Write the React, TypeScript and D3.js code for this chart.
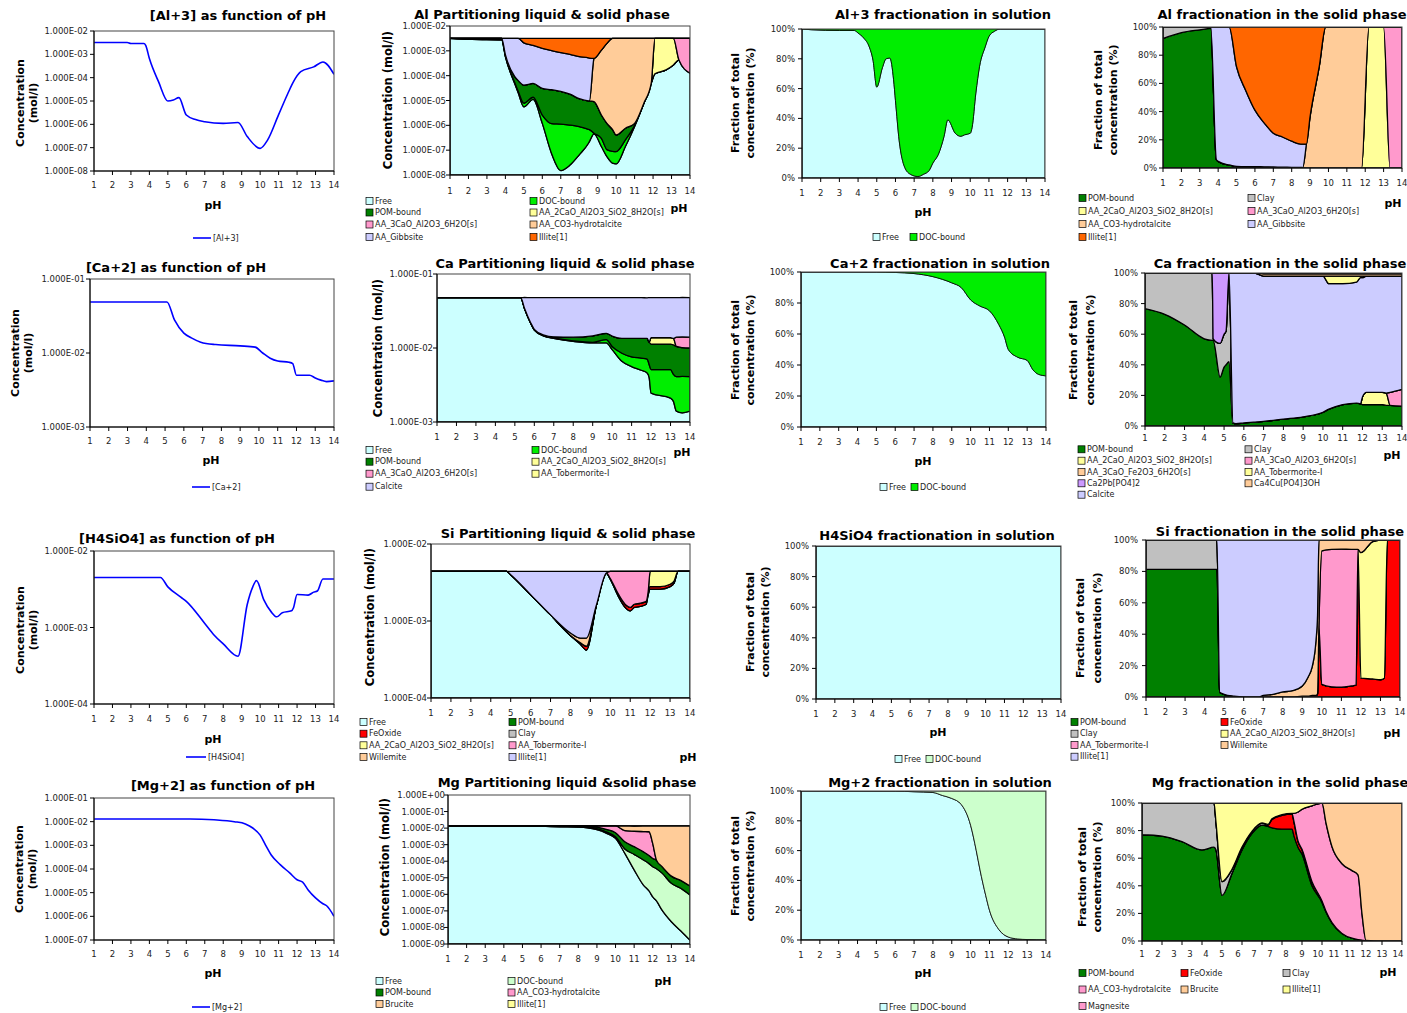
import React from "react";
import * as d3 from "d3";

const W = 1407;
const H = 1013;
const FONT = "'DejaVu Sans', Verdana, sans-serif";

// palette
const C_FREE = "#ccffff";
const C_DOC = "#00ee00";
const C_DOC_LIGHT = "#ccffcc";
const C_POM = "#008000";
const C_CLAY = "#c0c0c0";
const C_YELLOW = "#ffff99";
const C_PINK = "#ff99cc";
const C_PEACH = "#ffcc99";
const C_LAVENDER = "#ccccff";
const C_ORANGE = "#ff6600";
const C_RED = "#ff0000";
const C_PURPLE = "#cc99ff";
const C_LINE = "#0000ff";

const phTicks = [1, 2, 3, 4, 5, 6, 7, 8, 9, 10, 11, 12, 13, 14];
const mgSolidTickLabels = ["1", "2", "3", "3", "4", "5", "6", "7", "7", "8", "9", "10", "11", "11", "12", "13", "14"];

// ---------- Al ----------
const alLinePh = [1, 2.8, 3, 3.7, 3.8, 4, 4.5, 5, 5.3, 5.6, 6, 6.5, 7, 8, 8.8, 9.3, 10, 10.4, 11, 11.5, 11.8, 12.2, 12.9, 13.4, 14];
const alLine = [3.2e-3, 3.2e-3, 2.9e-3, 2.9e-3, 2.4e-3, 6.6e-4, 6.6e-5, 1e-5, 1.1e-5, 1.4e-5, 2.5e-6, 1.6e-6, 1.3e-6, 1.1e-6, 1.2e-6, 3e-7, 9.3e-8, 2.1e-7, 2.6e-6, 2.1e-5, 6.6e-5, 1.8e-4, 2.9e-4, 4.7e-4, 1.4e-4];

const alPartPh = [1, 2.2, 3.8, 4, 4.5, 4.7, 5, 5.5, 6, 6.5, 7, 7.5, 8, 8.5, 8.55, 8.8, 9.2, 9.5, 9.8, 10, 10.5, 11, 11.5, 11.9, 12.1, 12.7, 13.1, 13.4, 14];
const alPartFree = [3.2e-3, 2.9e-3, 2.8e-3, 5.9e-4, 4.9e-5, 2e-5, 5.6e-6, 1.1e-5, 1.2e-6, 7.4e-8, 1.5e-8, 2.5e-8, 6.5e-8, 1.9e-7, 2.2e-7, 4.5e-7, 1.4e-7, 5.5e-8, 3e-8, 2.8e-8, 1.4e-7, 9e-7, 7.8e-6, 5e-5, 1.2e-4, 1.7e-4, 2.7e-4, 4.3e-4, 1.25e-4];
const alPartDoc = [0, 0, 0, 1e-5, 5e-6, 3e-6, 2.2e-6, 2.5e-6, 1.4e-6, 1.1e-6, 1.1e-6, 1e-6, 8.3e-7, 5e-7, 4.5e-7, 3e-8, 1.6e-7, 5e-8, 6e-8, 6e-8, 1.2e-7, 1e-7, 0, 0, 0, 0, 0, 0, 0];
const alPartPom = [0, 3e-4, 4e-4, 1e-4, 4e-5, 4e-5, 3.4e-5, 3.5e-5, 2.8e-5, 2.6e-5, 2.2e-5, 1.7e-5, 1.1e-5, 9e-6, 9e-6, 8.5e-6, 2.3e-6, 1.1e-6, 6e-7, 3.2e-7, 5e-7, 2e-7, 0, 0, 0, 0, 0, 0, 0];
const alPart2CaO = [0, 0, 0, 0, 0, 0, 0, 0, 0, 0, 0, 0, 0, 0, 0, 0, 0, 0, 0, 0, 0, 0, 0, 0, 3.08e-3, 3e-3, 2.9e-3, 0, 0];
const alPart3CaO = [0, 0, 0, 0, 0, 0, 0, 0, 0, 0, 0, 0, 0, 0, 0, 0, 0, 0, 0, 0, 0, 0, 0, 0, 0, 0, 0, 2.77e-3, 3.07e-3];
const alPartHydro = [0, 0, 0, 0, 0, 0, 0, 0, 0, 0, 0, 0, 0, 0, 0, 4.9e-4, 1.07e-3, 2e-3, 3.2e-3, 3.2e-3, 3.2e-3, 3.2e-3, 3.19e-3, 3.15e-3, 0, 0, 0, 0, 0];
const alPartGibbsite = [0, 0, 0, 2.5e-3, 3.1e-3, 3.1e-3, 2.06e-3, 1.6e-3, 1.23e-3, 1e-3, 8.3e-4, 7e-4, 5.7e-4, 5.1e-4, 5e-4, 0, 0, 0, 0, 0, 0, 0, 0, 0, 0, 0, 0, 0, 0];
const alPartIllite = [0, 0, 0, 0, 0, 0, 1.1e-3, 1.55e-3, 1.9e-3, 2.15e-3, 2.35e-3, 2.45e-3, 2.6e-3, 2.65e-3, 2.65e-3, 2.65e-3, 2.1e-3, 1.2e-3, 0, 0, 0, 0, 0, 0, 0, 0, 0, 0, 0];

const alSolPh = [1, 1.5, 3, 3.8, 4, 4.3, 4.6, 4.8, 5, 5.3, 5.5, 5.7, 5.9, 6, 6.2, 6.5, 6.8, 7.2, 7.5, 7.8, 8, 8.3, 8.6, 8.8, 9.2, 9.5, 9.7, 10, 10.1, 10.3, 10.5, 10.8, 11, 11.3, 11.6, 14];
const alSolFree = [100, 99.5, 99, 99, 97.3, 94, 88, 79, 61, 74, 80, 80.5, 66, 52, 25, 7, 2.5, 1, 2.5, 5, 10, 16, 28, 39, 30, 28, 29, 30, 34, 57, 75, 88, 95, 98.5, 100, 100];
const alSolDoc = [0, 0.5, 1, 1, 2.7, 6, 12, 21, 39, 26, 20, 19.5, 34, 48, 75, 93, 97.5, 99, 97.5, 95, 90, 84, 72, 61, 70, 72, 71, 70, 66, 43, 25, 12, 5, 1.5, 0, 0];

const alSolidPh = [1, 2, 3, 3.6, 3.9, 4, 4.5, 4.6, 5, 5.5, 6, 6.5, 7, 7.5, 8, 8.5, 8.6, 8.8, 9, 9.5, 9.85, 11.8, 12.2, 13, 13.35, 14];
const alSolidPom = [91.8, 96, 98, 99, 6, 4.7, 2.4, 2.2, 1.2, 1, 1, 0.8, 0.7, 0.6, 0.5, 0.4, 0.3, 0, 0, 0, 0, 0, 0, 0, 0, 0];
const alSolidClay = [8.2, 4, 2, 1, 0, 0, 0, 0, 0, 0, 0, 0, 0, 0, 0, 0, 0, 0, 0, 0, 0, 0, 0, 0, 0, 0];
const alSolid2CaO = [0, 0, 0, 0, 0, 0, 0, 0, 0, 0, 0, 0, 0, 0, 0, 0, 0, 0, 0, 0, 0, 0, 100, 100, 0, 0];
const alSolid3CaO = [0, 0, 0, 0, 0, 0, 0, 0, 0, 0, 0, 0, 0, 0, 0, 0, 0, 0, 0, 0, 0, 0, 0, 0, 100, 100];
const alSolidHydro = [0, 0, 0, 0, 0, 0, 0, 0, 0, 0, 0, 0, 0, 0, 0, 0, 0, 17, 36.5, 72, 100, 100, 0, 0, 0, 0];
const alSolidGibbsite = [0, 0, 0, 0, 94, 95.3, 97.6, 97.8, 70.6, 54, 40, 31.2, 24, 21.4, 18.5, 16.6, 16.7, 0, 0, 0, 0, 0, 0, 0, 0, 0];
const alSolidIllite = [0, 0, 0, 0, 0, 0, 0, 0, 28.2, 45, 59, 68, 75.3, 78, 81, 83, 83, 83, 63.5, 28, 0, 0, 0, 0, 0, 0];

// ---------- Ca ----------
const caLinePh = [1, 5.1, 5.5, 6, 6.4, 6.9, 7.7, 9, 9.8, 10.2, 10.6, 11, 11.6, 11.8, 12, 12.7, 13, 13.3, 13.6, 14];
const caLine = [4.9e-2, 4.9e-2, 2.8e-2, 1.86e-2, 1.6e-2, 1.4e-2, 1.3e-2, 1.25e-2, 1.2e-2, 1e-2, 8.5e-3, 7.8e-3, 7.5e-3, 7.2e-3, 5e-3, 5e-3, 4.6e-3, 4.3e-3, 4.1e-3, 4.2e-3];

const caPartPh = [1, 5.3, 5.5, 5.8, 6, 6.5, 7, 8, 9, 9.7, 10, 10.5, 11, 11.5, 11.8, 11.9, 12, 13, 13.15, 13.3, 13.6, 14];
const caPartFree = [4.8e-2, 4.8e-2, 3.4e-2, 2.2e-2, 1.75e-2, 1.45e-2, 1.35e-2, 1.23e-2, 1.17e-2, 1.17e-2, 9.5e-3, 6.6e-3, 5.6e-3, 5e-3, 4.6e-3, 4e-3, 2.45e-3, 2.1e-3, 1.9e-3, 1.4e-3, 1.33e-3, 1.4e-3];
const caPartDoc = [0, 0, 1e-4, 1e-4, 1e-4, 1e-4, 1.5e-4, 2e-4, 2.5e-4, 1.3e-3, 1e-3, 1.9e-3, 2e-3, 2.3e-3, 2.5e-3, 2e-3, 2.65e-3, 3e-3, 2.5e-3, 2.7e-3, 2.8e-3, 2.7e-3];
const caPartPom = [0, 0, 1e-4, 2e-4, 3e-4, 3e-4, 5e-4, 1.5e-3, 2.6e-3, 2.8e-3, 4e-3, 5e-3, 5.9e-3, 6.2e-3, 6.4e-3, 6e-3, 6.2e-3, 6.2e-3, 6.6e-3, 6.4e-3, 6e-3, 5.9e-3];
const caPart2CaO = [0, 0, 0, 0, 0, 0, 0, 0, 0, 0, 0, 0, 0, 0, 0, 0, 2.5e-3, 2.5e-3, 2.5e-3, 0, 0, 0];
const caPart3CaO = [0, 0, 0, 0, 0, 0, 0, 0, 0, 0, 0, 0, 0, 0, 0, 0, 0, 0, 0, 3.5e-3, 4e-3, 4e-3];
const caPartTober = [0, 0, 0, 0, 0, 0, 0, 0, 0, 0, 0, 0, 0, 0, 0, 0, 0, 0, 0, 0, 0, 0];
const caPartCalcite = [0, 0, 1.39e-2, 2.57e-2, 3.01e-2, 3.31e-2, 3.39e-2, 3.4e-2, 3.34e-2, 3.22e-2, 3.35e-2, 3.45e-2, 3.43e-2, 3.43e-2, 3.42e-2, 3.6e-2, 3.42e-2, 3.42e-2, 3.45e-2, 3.4e-2, 3.4e-2, 3.4e-2];

const caSolPh = [1, 5, 6, 7, 8, 9, 9.5, 10, 10.5, 11, 11.5, 11.8, 12, 12.5, 13, 13.3, 13.6, 14];
const caSolFree = [100, 100, 99.7, 99, 97, 93, 90, 82, 78, 75, 66, 58, 50, 45, 43, 37, 34, 33];
const caSolDoc = [0, 0, 0.3, 1, 3, 7, 10, 18, 22, 25, 34, 42, 50, 55, 57, 63, 66, 67];

const caSolidPh = [1, 2, 3, 4, 4.4, 4.45, 4.8, 5, 5.1, 5.25, 5.45, 5.6, 6, 6.5, 7, 8, 9, 10, 10.3, 11, 11.7, 11.9, 12, 12.2, 13, 13.2, 13.4, 14];
const caSolidPom = [76.7, 73, 66, 57, 56, 56, 32, 38.5, 40, 42, 2, 1.5, 2, 2.5, 3, 4.5, 6, 9, 11, 14, 15, 14.5, 14, 14, 14, 13.5, 13.5, 13];
const caSolidClay = [23.3, 27, 34, 43, 44, 1, 22, 21.5, 22, 58, 0, 0, 0, 0, 0, 0, 0, 0, 0, 0, 0, 0, 0, 0, 0, 0, 0, 0];
const caSolid2CaO = [0, 0, 0, 0, 0, 0, 0, 0, 0, 0, 0, 0, 0, 0, 0, 0, 0, 0, 0, 0, 0, 0, 5, 8, 8, 8, 0, 0];
const caSolid3CaOAl = [0, 0, 0, 0, 0, 0, 0, 0, 0, 0, 0, 0, 0, 0, 0, 0, 0, 0, 0, 0, 0, 0, 0, 0, 0, 0, 8.5, 11];
const caSolid3CaOFe = [0, 0, 0, 0, 0, 0, 0, 0, 0, 0, 0, 0, 0, 0, 1.5, 1.5, 1.5, 1.5, 1.5, 1.5, 1.5, 1.5, 1.5, 1.5, 1.5, 1.5, 1.5, 1.5];
const caSolidTober = [0, 0, 0, 0, 0, 0, 0, 0, 0, 0, 0, 0, 0, 0, 0, 0, 0, 0, 5, 5, 4, 1, 1, 0, 0, 0, 0, 0];
const caSolidCa2Pb = [0, 0, 0, 0, 0, 43, 46, 40, 38, 0, 0, 0, 0, 0, 0, 0, 0, 0, 0, 0, 0, 0, 0, 0, 0, 0, 0, 0];
const caSolidCa4Cu = [0, 0, 0, 0, 0, 0, 0, 0, 0, 0, 0, 0, 0, 0, 0.5, 0.5, 0.5, 0.5, 0.5, 0.5, 0.5, 0.5, 0.5, 0.5, 0.5, 0.5, 0.5, 0.5];
const caSolidCalcite = [0, 0, 0, 0, 0, 0, 0, 0, 0, 0, 98, 98.5, 98, 97.5, 95, 93.5, 92, 89, 82, 79, 79, 82.5, 78, 76, 76, 76.5, 76, 74];

// ---------- Si ----------
const siLinePh = [1, 4.6, 5, 5.7, 6, 7, 7.5, 8, 8.8, 9.3, 9.6, 9.8, 10.2, 10.6, 10.9, 11.2, 11.7, 11.8, 12, 12.6, 12.9, 13.1, 13.4, 14];
const siLine = [4.5e-3, 4.5e-3, 3.4e-3, 2.5e-3, 2.2e-3, 1.13e-3, 8e-4, 6.1e-4, 4.2e-4, 2e-3, 3.4e-3, 4.1e-3, 2.3e-3, 1.6e-3, 1.38e-3, 1.56e-3, 1.65e-3, 1.8e-3, 2.7e-3, 2.65e-3, 2.9e-3, 3e-3, 4.3e-3, 4.3e-3];

const siPartPh = [1, 4.8, 5, 6, 7, 8, 8.5, 8.8, 9.3, 9.8, 10, 10.4, 10.8, 11, 11.2, 11.5, 11.8, 11.9, 12, 12.5, 13, 13.2, 13.4, 14];
const siPartFree = [4.4e-3, 4.4e-3, 4e-3, 2.2e-3, 1.2e-3, 6.5e-4, 5e-4, 4.2e-4, 1.6e-3, 4.2e-3, 3.5e-3, 2.1e-3, 1.45e-3, 1.35e-3, 1.5e-3, 1.55e-3, 1.65e-3, 2.2e-3, 2.6e-3, 2.6e-3, 2.8e-3, 3.1e-3, 4.4e-3, 4.4e-3];
const siPartPom = [0, 0, 0, 0, 0, 0, 0, 0, 0, 0, 0, 0, 0, 0, 0, 0, 0, 0, 0, 0, 0, 0, 0, 0];
const siPartFe = [0, 0, 0, 0, 0, 0, 2e-5, 5e-5, 0, 0, 5e-5, 1.5e-4, 1.5e-4, 1.5e-4, 1.5e-4, 1.5e-4, 1.5e-4, 2e-4, 2e-4, 2e-4, 2e-4, 2e-4, 0, 0];
const siPartClay = [0, 0, 0, 0, 0, 0, 0, 0, 0, 0, 0, 0, 0, 0, 0, 0, 0, 0, 0, 0, 0, 0, 0, 0];
const siPart2CaO = [0, 0, 0, 0, 0, 0, 0, 0, 0, 0, 0, 0, 0, 0, 0, 0, 0, 0, 1.6e-3, 1.6e-3, 1.4e-3, 1.1e-3, 0, 0];
const siPartTober = [0, 0, 0, 0, 0, 0, 0, 0, 0, 0, 8.5e-4, 2.15e-3, 2.8e-3, 2.9e-3, 2.75e-3, 2.7e-3, 2.6e-3, 2e-3, 0, 0, 0, 0, 0, 0];
const siPartWillemite = [0, 0, 0, 0, 0, 5e-5, 8e-5, 1.3e-4, 0, 0, 0, 0, 0, 0, 0, 0, 0, 0, 0, 0, 0, 0, 0, 0];
const siPartIllite = [0, 0, 4e-4, 2.2e-3, 3.2e-3, 3.7e-3, 3.8e-3, 3.8e-3, 2.8e-3, 2e-4, 0, 0, 0, 0, 0, 0, 0, 0, 0, 0, 0, 0, 0, 0];

const siSolPh = [1, 14];
const siSolFree = [100, 100];
const siSolDoc = [0, 0];

const siSolidPh = [1, 4.63, 4.77, 5, 5.5, 6, 6.8, 7, 7.5, 8, 8.5, 9, 9.3, 9.5, 9.7, 9.78, 9.85, 10, 10.5, 11, 11.5, 11.75, 11.85, 12, 12.6, 13, 13.2, 13.35, 14];
const siSolidPom = [81.3, 81.3, 3, 1.7, 0.5, 0, 0, 0, 0, 0, 0, 0, 0, 0, 0, 0, 0, 0, 0, 0, 0, 0, 0, 0, 0, 0, 0, 0, 0];
const siSolidFe = [0, 0, 0, 0, 0, 0, 0, 0, 0, 0, 0, 0.5, 0.5, 1, 1, 2, 45, 8, 6.5, 6.2, 7, 7.5, 94, 12, 11.5, 11, 12, 100, 100];
const siSolidClay = [18.7, 18.7, 0, 0, 0, 0, 0, 0, 0, 0, 0, 0, 0, 0, 0, 0, 0, 0, 0, 0, 0, 0, 0, 0, 0, 0, 0, 0, 0];
const siSolid2CaO = [0, 0, 0, 0, 0, 0, 0, 0, 0, 0, 0, 0, 0, 0, 0, 0, 0, 0, 0, 0, 0, 0, 0, 80, 87.5, 89, 88, 0, 0];
const siSolidTober = [0, 0, 0, 0, 0, 0, 0, 0, 0, 0, 0, 0, 0, 0, 0, 0, 0, 85, 87.5, 88, 87, 86.5, 0, 0, 0, 0, 0, 0, 0];
const siSolidWillemite = [0, 0, 0, 0, 0, 0, 0, 1, 1.7, 3.2, 4, 6.5, 12.3, 18, 35, 50, 55, 7, 6, 5.8, 6, 6, 6, 8, 1, 0, 0, 0, 0];
const siSolidIllite = [0, 0, 97, 98.3, 99.5, 100, 100, 99, 98.3, 96.8, 96, 93, 87.2, 81, 64, 48, 0, 0, 0, 0, 0, 0, 0, 0, 0, 0, 0, 0, 0];

// ---------- Mg ----------
const mgLinePh = [1, 5, 6.2, 7.5, 8.6, 9.2, 9.6, 10, 10.3, 10.6, 11.1, 11.6, 12, 12.3, 12.6, 13, 13.4, 13.6, 14];
const mgLine = [1.3e-2, 1.3e-2, 1.3e-2, 1.2e-2, 1e-2, 8e-3, 5.4e-3, 2.7e-3, 1e-3, 3.9e-4, 1.5e-4, 6.8e-5, 3.5e-5, 2.8e-5, 1.3e-5, 6e-6, 3.4e-6, 2.8e-6, 1e-6];

const mgPartPh = [1, 5, 6, 7, 8, 8.5, 9, 9.5, 10, 10.5, 11, 11.5, 11.8, 12, 12.2, 12.5, 13, 13.5, 14];
const mgPartFree = [1.35e-2, 1.35e-2, 1.3e-2, 1.2e-2, 1.15e-2, 1.05e-2, 8e-3, 5e-3, 2.4e-3, 3e-4, 3e-5, 3.6e-6, 1.6e-6, 7e-7, 4e-7, 1.1e-7, 2.2e-8, 6.3e-9, 1.7e-9];
const mgPartDoc = [0, 0, 3e-4, 8e-4, 1e-3, 1.2e-3, 1.2e-3, 1e-3, 6e-4, 2.5e-4, 2.3e-4, 1.16e-4, 7e-5, 4.6e-5, 3.5e-5, 1.9e-5, 4.6e-6, 2.3e-6, 9e-7];
const mgPartPom = [0, 0, 2e-4, 7e-4, 1e-3, 1.5e-3, 2.3e-3, 2.5e-3, 2.3e-3, 9.5e-4, 5e-4, 2.5e-4, 1.5e-4, 1e-4, 8e-5, 2.8e-5, 8e-6, 4.7e-6, 2.3e-6];
const mgPartHydro = [0, 0, 0, 0, 0, 3e-4, 2e-3, 5e-3, 8.2e-3, 5.5e-3, 5.7e-3, 5.8e-3, 5.8e-3, 1e-3, 0, 0, 0, 0, 0];
const mgPartBrucite = [0, 0, 0, 0, 0, 0, 0, 0, 0, 6.5e-3, 7e-3, 7.3e-3, 7.5e-3, 1.24e-2, 1.34e-2, 1.35e-2, 1.35e-2, 1.35e-2, 1.35e-2];
const mgPartIllite = [0, 0, 0, 0, 0, 0, 0, 0, 0, 0, 0, 0, 0, 0, 0, 0, 0, 0, 0];

const mgSolPh = [1, 6, 7, 8, 8.5, 9, 9.5, 10, 10.3, 10.5, 10.8, 11, 11.5, 12, 12.5, 13, 14];
const mgSolFree = [100, 99.9, 99.5, 99, 97, 95, 91, 77, 60, 47, 30, 20, 7, 2, 0.7, 0.3, 0];
const mgSolDoc = [0, 0.1, 0.5, 1, 3, 5, 9, 23, 40, 53, 70, 80, 93, 98, 99.3, 99.7, 100];

const mgSolidPh = [1, 2, 3, 4, 4.6, 4.7, 5, 5.5, 6, 6.5, 7, 7.3, 7.5, 8, 8.5, 8.6, 8.8, 9, 9.5, 10, 10.2, 10.5, 11, 11.5, 11.8, 12, 12.2, 13, 14];
const mgSolidPom = [77, 76, 72, 66, 68, 66, 33, 49, 66, 78, 84, 83, 82, 81, 81, 76, 68, 63, 40, 28, 21, 13, 5.5, 2, 1, 0.7, 0, 0, 0];
const mgSolidFe = [0, 0, 0, 0, 0, 0, 0, 0, 0, 0, 0, 1, 6, 10, 11, 10, 4, 3, 2.5, 1, 0.5, 0.3, 0, 0, 0, 0, 0, 0, 0];
const mgSolidClay = [23, 24, 28, 34, 32, 20, 10, 3, 2, 1.5, 1.5, 0.5, 0.5, 0.5, 0.5, 0.5, 0.5, 0.5, 0.5, 0, 0, 0, 0, 0, 0, 0, 0, 0, 0];
const mgSolidHydro = [0, 0, 0, 0, 0, 0, 0, 0, 0, 0, 0, 0, 0, 0, 0, 6, 21, 29, 55, 71, 64, 55, 50.5, 49, 47, 19, 0.5, 0, 0];
const mgSolidBrucite = [0, 0, 0, 0, 0, 0, 0, 0, 0, 0, 0, 0, 0, 0, 0, 0, 0, 0, 0, 0, 14.5, 31.7, 44, 49, 52, 80.3, 99.5, 100, 100];
const mgSolidIllite = [0, 0, 0, 0, 0, 14, 57, 48, 32, 20.5, 14.5, 15.5, 11.5, 8.5, 7.5, 7.5, 6.5, 4.5, 2, 0, 0, 0, 0, 0, 0, 0, 0, 0, 0];
const mgSolidMagnesite = [0, 0, 0, 0, 0, 0, 0, 0, 0, 0, 0, 0, 0, 0, 0, 0, 0, 0, 0, 0, 0, 0, 0, 0, 0, 0, 0, 0, 0];

// ---------- panel specs ----------
type Series = { name: string; color: string; values: number[] };
type Spec = {
  id: string;
  kind: "line" | "log" | "pct";
  title: string;
  titleAt: [number, number];
  plot: [number, number, number, number];
  yDomain?: [number, number];
  yLabelX: number;
  yTitle: string[];
  yTitleX: number[];
  yTitleY: number;
  yTitleSize: number;
  xLabelY: number;
  xLabels?: string[];
  xLabelSpan?: [number, number];
  phAt: [number, number];
  ph: number[];
  series: Series[];
  stroke?: number;
  legendCols?: number[];
  legendRows?: number[];
  legendOrder?: string[];
  lineLegend?: { x1: number; x2: number; y: number; text: string };
};

const S2CAO = "AA_2CaO_Al2O3_SiO2_8H2O[s]";
const S3CAO = "AA_3CaO_Al2O3_6H2O[s]";
const SHYD = "AA_CO3-hydrotalcite";
const STOB = "AA_Tobermorite-I";
const CONC = ["Concentration", "(mol/l)"];
const FRAC = ["Fraction of total", "concentration (%)"];

const specs: Spec[] = [
  {
    id: "al1", kind: "line", title: "[Al+3] as function of pH", titleAt: [238, 15],
    plot: [94, 334, 31, 171], yDomain: [1e-8, 1e-2], yLabelX: 88,
    yTitle: CONC, yTitleX: [20, 33], yTitleY: 103, yTitleSize: 11, xLabelY: 185, phAt: [213, 205],
    ph: alLinePh, series: [{ name: "[Al+3]", color: C_LINE, values: alLine }],
    lineLegend: { x1: 193, x2: 211, y: 238, text: "[Al+3]" },
  },
  {
    id: "al2", kind: "log", title: "Al Partitioning liquid & solid phase", titleAt: [542, 14],
    plot: [450, 690, 26, 175], yDomain: [1e-8, 1e-2], yLabelX: 446,
    yTitle: ["Concentration (mol/l)"], yTitleX: [388], yTitleY: 100, yTitleSize: 11.5, xLabelY: 191, phAt: [679, 208],
    ph: alPartPh,
    series: [
      { name: "Free", color: C_FREE, values: alPartFree },
      { name: "DOC-bound", color: C_DOC, values: alPartDoc },
      { name: "POM-bound", color: C_POM, values: alPartPom },
      { name: S2CAO, color: C_YELLOW, values: alPart2CaO },
      { name: S3CAO, color: C_PINK, values: alPart3CaO },
      { name: SHYD, color: C_PEACH, values: alPartHydro },
      { name: "AA_Gibbsite", color: C_LAVENDER, values: alPartGibbsite },
      { name: "Illite[1]", color: C_ORANGE, values: alPartIllite },
    ],
    legendCols: [366, 530], legendRows: [201, 212.5, 224.5, 237],
  },
  {
    id: "al3", kind: "pct", title: "Al+3 fractionation in solution", titleAt: [943, 14],
    plot: [802, 1045, 29, 178], yLabelX: 795,
    yTitle: FRAC, yTitleX: [735, 750], yTitleY: 103, yTitleSize: 11, xLabelY: 193, phAt: [923, 212],
    ph: alSolPh, stroke: 0.8,
    series: [
      { name: "Free", color: C_FREE, values: alSolFree },
      { name: "DOC-bound", color: C_DOC, values: alSolDoc },
    ],
    legendCols: [873, 910], legendRows: [237],
  },
  {
    id: "al4", kind: "pct", title: "Al fractionation in the solid phase", titleAt: [1282, 14],
    plot: [1163, 1402, 27, 168], yLabelX: 1157,
    yTitle: FRAC, yTitleX: [1098, 1113], yTitleY: 100, yTitleSize: 11, xLabelY: 183, phAt: [1393, 203],
    ph: alSolidPh,
    series: [
      { name: "POM-bound", color: C_POM, values: alSolidPom },
      { name: "Clay", color: C_CLAY, values: alSolidClay },
      { name: S2CAO, color: C_YELLOW, values: alSolid2CaO },
      { name: S3CAO, color: C_PINK, values: alSolid3CaO },
      { name: SHYD, color: C_PEACH, values: alSolidHydro },
      { name: "AA_Gibbsite", color: C_LAVENDER, values: alSolidGibbsite },
      { name: "Illite[1]", color: C_ORANGE, values: alSolidIllite },
    ],
    legendCols: [1079, 1248], legendRows: [198, 211, 224, 237],
  },
  {
    id: "ca1", kind: "line", title: "[Ca+2] as function of pH", titleAt: [176, 267],
    plot: [90, 334, 279, 427], yDomain: [1e-3, 1e-1], yLabelX: 85,
    yTitle: CONC, yTitleX: [15, 28], yTitleY: 353, yTitleSize: 11, xLabelY: 441, phAt: [211, 460],
    ph: caLinePh, series: [{ name: "[Ca+2]", color: C_LINE, values: caLine }],
    lineLegend: { x1: 192, x2: 210, y: 487, text: "[Ca+2]" },
  },
  {
    id: "ca2", kind: "log", title: "Ca Partitioning liquid & solid phase", titleAt: [565, 263],
    plot: [437, 690, 274, 422], yDomain: [1e-3, 1e-1], yLabelX: 433,
    yTitle: ["Concentration (mol/l)"], yTitleX: [378], yTitleY: 348, yTitleSize: 11.5, xLabelY: 437, phAt: [682, 452],
    ph: caPartPh,
    series: [
      { name: "Free", color: C_FREE, values: caPartFree },
      { name: "DOC-bound", color: C_DOC, values: caPartDoc },
      { name: "POM-bound", color: C_POM, values: caPartPom },
      { name: S2CAO, color: C_YELLOW, values: caPart2CaO },
      { name: S3CAO, color: C_PINK, values: caPart3CaO },
      { name: STOB, color: C_YELLOW, values: caPartTober },
      { name: "Calcite", color: C_LAVENDER, values: caPartCalcite },
    ],
    legendCols: [366, 532], legendRows: [450, 461.7, 473.7, 486.7],
  },
  {
    id: "ca3", kind: "pct", title: "Ca+2 fractionation in solution", titleAt: [940, 263],
    plot: [801, 1046, 272, 427], yLabelX: 794,
    yTitle: FRAC, yTitleX: [735, 750], yTitleY: 350, yTitleSize: 11, xLabelY: 442, phAt: [923, 461],
    ph: caSolPh, stroke: 0.8,
    series: [
      { name: "Free", color: C_FREE, values: caSolFree },
      { name: "DOC-bound", color: C_DOC, values: caSolDoc },
    ],
    legendCols: [880, 911], legendRows: [487],
  },
  {
    id: "ca4", kind: "pct", title: "Ca fractionation in the solid phase", titleAt: [1280, 263],
    plot: [1145, 1402, 273, 426], yLabelX: 1138,
    yTitle: FRAC, yTitleX: [1073, 1090], yTitleY: 350, yTitleSize: 11, xLabelY: 438, phAt: [1392, 455],
    ph: caSolidPh,
    series: [
      { name: "POM-bound", color: C_POM, values: caSolidPom },
      { name: "Clay", color: C_CLAY, values: caSolidClay },
      { name: S2CAO, color: C_YELLOW, values: caSolid2CaO },
      { name: S3CAO, color: C_PINK, values: caSolid3CaOAl },
      { name: "Ca2Pb[PO4]2", color: C_PURPLE, values: caSolidCa2Pb },
      { name: "Calcite", color: C_LAVENDER, values: caSolidCalcite },
      { name: STOB, color: C_YELLOW, values: caSolidTober },
      { name: "AA_3CaO_Fe2O3_6H2O[s]", color: C_PEACH, values: caSolid3CaOFe },
      { name: "Ca4Cu[PO4]3OH", color: C_PEACH, values: caSolidCa4Cu },
    ],
    legendOrder: ["POM-bound", "Clay", S2CAO, S3CAO, "AA_3CaO_Fe2O3_6H2O[s]", STOB, "Ca2Pb[PO4]2", "Ca4Cu[PO4]3OH", "Calcite"],
    legendCols: [1078, 1245], legendRows: [449.3, 460.7, 472, 483.3, 494.7],
  },
  {
    id: "si1", kind: "line", title: "[H4SiO4] as function of pH", titleAt: [177, 538],
    plot: [94, 334, 551, 704], yDomain: [1e-4, 1e-2], yLabelX: 88,
    yTitle: CONC, yTitleX: [20, 33], yTitleY: 630, yTitleSize: 11, xLabelY: 719, phAt: [213, 739],
    ph: siLinePh, series: [{ name: "[H4SiO4]", color: C_LINE, values: siLine }],
    lineLegend: { x1: 186, x2: 206, y: 757, text: "[H4SiO4]" },
  },
  {
    id: "si2", kind: "log", title: "Si Partitioning liquid & solid phase", titleAt: [568, 533],
    plot: [431, 690, 544, 698], yDomain: [1e-4, 1e-2], yLabelX: 427,
    yTitle: ["Concentration (mol/l)"], yTitleX: [370], yTitleY: 617, yTitleSize: 11.5, xLabelY: 713, phAt: [688, 757],
    ph: siPartPh,
    series: [
      { name: "Free", color: C_FREE, values: siPartFree },
      { name: "POM-bound", color: C_POM, values: siPartPom },
      { name: "FeOxide", color: C_RED, values: siPartFe },
      { name: "Clay", color: C_CLAY, values: siPartClay },
      { name: S2CAO, color: C_YELLOW, values: siPart2CaO },
      { name: STOB, color: C_PINK, values: siPartTober },
      { name: "Willemite", color: C_PEACH, values: siPartWillemite },
      { name: "Illite[1]", color: C_LAVENDER, values: siPartIllite },
    ],
    legendCols: [360, 509], legendRows: [722, 733.7, 745.3, 757],
  },
  {
    id: "si3", kind: "pct", title: "H4SiO4 fractionation in solution", titleAt: [937, 535],
    plot: [816, 1061, 546, 699], yLabelX: 809,
    yTitle: FRAC, yTitleX: [750, 765], yTitleY: 622, yTitleSize: 11, xLabelY: 714, phAt: [938, 732],
    ph: siSolPh, stroke: 0.8,
    series: [
      { name: "Free", color: C_FREE, values: siSolFree },
      { name: "DOC-bound", color: C_DOC_LIGHT, values: siSolDoc },
    ],
    legendCols: [895, 926], legendRows: [759],
  },
  {
    id: "si4", kind: "pct", title: "Si fractionation in the solid phase", titleAt: [1280, 531],
    plot: [1146, 1400, 540, 697], yLabelX: 1138,
    yTitle: FRAC, yTitleX: [1080, 1097], yTitleY: 628, yTitleSize: 11, xLabelY: 712, phAt: [1392, 733],
    ph: siSolidPh,
    series: [
      { name: "POM-bound", color: C_POM, values: siSolidPom },
      { name: "FeOxide", color: C_RED, values: siSolidFe },
      { name: "Clay", color: C_CLAY, values: siSolidClay },
      { name: S2CAO, color: C_YELLOW, values: siSolid2CaO },
      { name: STOB, color: C_PINK, values: siSolidTober },
      { name: "Willemite", color: C_PEACH, values: siSolidWillemite },
      { name: "Illite[1]", color: C_LAVENDER, values: siSolidIllite },
    ],
    legendCols: [1071, 1221], legendRows: [722, 733.7, 745, 756.7],
  },
  {
    id: "mg1", kind: "line", title: "[Mg+2] as function of pH", titleAt: [223, 785],
    plot: [94, 334, 798, 940], yDomain: [1e-7, 1e-1], yLabelX: 88,
    yTitle: CONC, yTitleX: [19, 32], yTitleY: 869, yTitleSize: 11, xLabelY: 954, phAt: [213, 973],
    ph: mgLinePh, series: [{ name: "[Mg+2]", color: C_LINE, values: mgLine }],
    lineLegend: { x1: 192, x2: 210, y: 1007, text: "[Mg+2]" },
  },
  {
    id: "mg2", kind: "log", title: "Mg Partitioning liquid &solid phase", titleAt: [567, 782],
    plot: [448, 690, 795, 944], yDomain: [1e-9, 1], yLabelX: 445,
    yTitle: ["Concentration (mol/l)"], yTitleX: [385], yTitleY: 867, yTitleSize: 11.5, xLabelY: 959, phAt: [663, 981],
    ph: mgPartPh,
    series: [
      { name: "Free", color: C_FREE, values: mgPartFree },
      { name: "DOC-bound", color: C_DOC_LIGHT, values: mgPartDoc },
      { name: "POM-bound", color: C_POM, values: mgPartPom },
      { name: SHYD, color: C_PINK, values: mgPartHydro },
      { name: "Brucite", color: C_PEACH, values: mgPartBrucite },
      { name: "Illite[1]", color: C_YELLOW, values: mgPartIllite },
    ],
    legendCols: [376, 508], legendRows: [981, 992.5, 1004],
  },
  {
    id: "mg3", kind: "pct", title: "Mg+2 fractionation in solution", titleAt: [940, 782],
    plot: [801, 1046, 791, 940], yLabelX: 794,
    yTitle: FRAC, yTitleX: [735, 750], yTitleY: 866, yTitleSize: 11, xLabelY: 955, phAt: [923, 973],
    ph: mgSolPh, stroke: 0.8,
    series: [
      { name: "Free", color: C_FREE, values: mgSolFree },
      { name: "DOC-bound", color: C_DOC_LIGHT, values: mgSolDoc },
    ],
    legendCols: [880, 911], legendRows: [1007],
  },
  {
    id: "mg4", kind: "pct", title: "Mg fractionation in the solid phase", titleAt: [1280, 782],
    plot: [1142, 1402, 803, 941], yLabelX: 1135,
    yTitle: FRAC, yTitleX: [1082, 1097], yTitleY: 877, yTitleSize: 11, xLabelY: 954,
    xLabels: mgSolidTickLabels, xLabelSpan: [1142, 1398], phAt: [1388, 972],
    ph: mgSolidPh,
    series: [
      { name: "POM-bound", color: C_POM, values: mgSolidPom },
      { name: "FeOxide", color: C_RED, values: mgSolidFe },
      { name: "Clay", color: C_CLAY, values: mgSolidClay },
      { name: SHYD, color: C_PINK, values: mgSolidHydro },
      { name: "Brucite", color: C_PEACH, values: mgSolidBrucite },
      { name: "Illite[1]", color: C_YELLOW, values: mgSolidIllite },
      { name: "Magnesite", color: C_PINK, values: mgSolidMagnesite },
    ],
    legendCols: [1079, 1181, 1283], legendRows: [973, 989.5, 1006],
  },
];

function fmtExp(e: number) {
  const sign = e < 0 ? "-" : "+";
  return `1.000E${sign}${String(Math.abs(e)).padStart(2, "0")}`;
}

type Row = Record<string, number>;

function Panel({ p }: { p: Spec }) {
  const [X0, X1, Y0, Y1] = p.plot;
  const x = d3.scaleLinear().domain([1, 14]).range([X0, X1]);
  const pct = p.kind === "pct";
  const dom = p.yDomain ?? [0, 1];
  const y = pct
    ? d3.scaleLinear().domain([0, 1]).range([Y1, Y0])
    : d3.scaleLog().domain(dom).range([Y1, Y0]);
  const yv = (v: number) => y(pct ? v : Math.max(v, dom[0]));
  const yTicks = pct
    ? [0, 0.2, 0.4, 0.6, 0.8, 1]
    : d3.range(Math.round(Math.log10(dom[0])), Math.round(Math.log10(dom[1])) + 1).map((e) => Math.pow(10, e));
  const yFmt = (v: number) => (pct ? `${Math.round(v * 100)}%` : fmtExp(Math.round(Math.log10(v))));
  const clipId = `clip-${p.id}`;

  let marks: React.ReactNode = null;
  if (p.kind === "line") {
    const line = d3
      .line<number>()
      .x((_, i) => x(p.ph[i]))
      .y((v) => yv(v))
      .curve(d3.curveMonotoneX);
    marks = p.series.map((s) => (
      <path key={s.name} d={line(s.values) ?? ""} fill="none" stroke={s.color} strokeWidth={1.6} />
    ));
  } else {
    const keys = p.series.map((s) => s.name);
    const rows: Row[] = p.ph.map((ph, i) => {
      const r: Row = { ph };
      p.series.forEach((s) => {
        r[s.name] = s.values[i];
      });
      return r;
    });
    const layers = d3
      .stack<Row>()
      .keys(keys)
      .offset(pct ? d3.stackOffsetExpand : d3.stackOffsetNone)(rows);
    const area = d3
      .area<d3.SeriesPoint<Row>>()
      .x((d) => x(d.data.ph))
      .y0((d) => yv(d[0]))
      .y1((d) => yv(d[1]))
      .curve(d3.curveMonotoneX);
    marks = layers.map((L, i) => (
      <path
        key={L.key}
        d={area(L) ?? ""}
        fill={p.series[i].color}
        stroke="#000"
        strokeWidth={p.stroke ?? 1.3}
        strokeLinejoin="round"
      />
    ));
  }

  let xLabelEls: React.ReactNode;
  if (p.xLabels && p.xLabelSpan) {
    const sp = d3.scalePoint<number>().domain(d3.range(p.xLabels.length)).range(p.xLabelSpan);
    xLabelEls = p.xLabels.map((t, i) => (
      <text key={i} x={sp(i)} y={p.xLabelY} textAnchor="middle" dominantBaseline="central" fontSize={8.5} fill="#222">
        {t}
      </text>
    ));
  } else {
    xLabelEls = phTicks.map((t) => (
      <text key={t} x={x(t)} y={p.xLabelY} textAnchor="middle" dominantBaseline="central" fontSize={8.5} fill="#222">
        {t}
      </text>
    ));
  }

  const legendNames = p.legendOrder ?? p.series.map((s) => s.name);
  const nc = p.legendCols ? p.legendCols.length : 1;

  return (
    <g fontFamily={FONT}>
      <defs>
        <clipPath id={clipId}>
          <rect x={X0} y={Y0} width={X1 - X0} height={Y1 - Y0} />
        </clipPath>
      </defs>
      <g clipPath={`url(#${clipId})`}>{marks}</g>
      <rect x={X0} y={Y0} width={X1 - X0} height={Y1 - Y0} fill="none" stroke="#444" strokeWidth={1} />
      <line x1={X0} x2={X0} y1={Y0} y2={Y1} stroke="#000" strokeWidth={1} />
      <line x1={X0} x2={X1} y1={Y1} y2={Y1} stroke="#000" strokeWidth={1} />
      {yTicks.map((t) => (
        <g key={t}>
          <line x1={X0 - 4} x2={X0} y1={y(t)} y2={y(t)} stroke="#000" />
          <text x={p.yLabelX} y={y(t)} textAnchor="end" dominantBaseline="central" fontSize={8.5} fill="#222">
            {yFmt(t)}
          </text>
        </g>
      ))}
      {phTicks.map((t) => (
        <line key={t} x1={x(t)} x2={x(t)} y1={Y1} y2={Y1 + 4} stroke="#000" />
      ))}
      {xLabelEls}
      <text x={p.titleAt[0]} y={p.titleAt[1]} textAnchor="middle" dominantBaseline="central" fontSize={13} fontWeight="bold">
        {p.title}
      </text>
      {p.yTitle.map((t, i) => (
        <text
          key={t}
          transform={`translate(${p.yTitleX[i]},${p.yTitleY}) rotate(-90)`}
          textAnchor="middle"
          dominantBaseline="central"
          fontSize={p.yTitleSize}
          fontWeight="bold"
        >
          {t}
        </text>
      ))}
      <text x={p.phAt[0]} y={p.phAt[1]} textAnchor="middle" dominantBaseline="central" fontSize={11} fontWeight="bold">
        pH
      </text>
      {p.lineLegend && (
        <g>
          <line
            x1={p.lineLegend.x1}
            x2={p.lineLegend.x2}
            y1={p.lineLegend.y}
            y2={p.lineLegend.y}
            stroke={C_LINE}
            strokeWidth={1.6}
          />
          <text x={p.lineLegend.x2 + 2} y={p.lineLegend.y} dominantBaseline="central" fontSize={8} fill="#222">
            {p.lineLegend.text}
          </text>
        </g>
      )}
      {p.legendCols &&
        p.legendRows &&
        legendNames.map((name, i) => {
          const s = p.series.find((q) => q.name === name)!;
          const lx = p.legendCols![i % nc];
          const ly = p.legendRows![Math.floor(i / nc)];
          return (
            <g key={name}>
              <rect x={lx} y={ly - 3.5} width={7} height={7} fill={s.color} stroke="#000" strokeWidth={0.7} />
              <text x={lx + 9} y={ly} dominantBaseline="central" fontSize={8} fill="#222">
                {name}
              </text>
            </g>
          );
        })}
    </g>
  );
}

export default function App() {
  return (
    <svg
      width={W}
      height={H}
      viewBox={`0 0 ${W} ${H}`}
      style={{ position: "absolute", left: 0, top: 0, background: "#fff" }}
    >
      <rect x={0} y={0} width={W} height={H} fill="#fff" />
      {specs.map((p) => (
        <Panel key={p.id} p={p} />
      ))}
    </svg>
  );
}
